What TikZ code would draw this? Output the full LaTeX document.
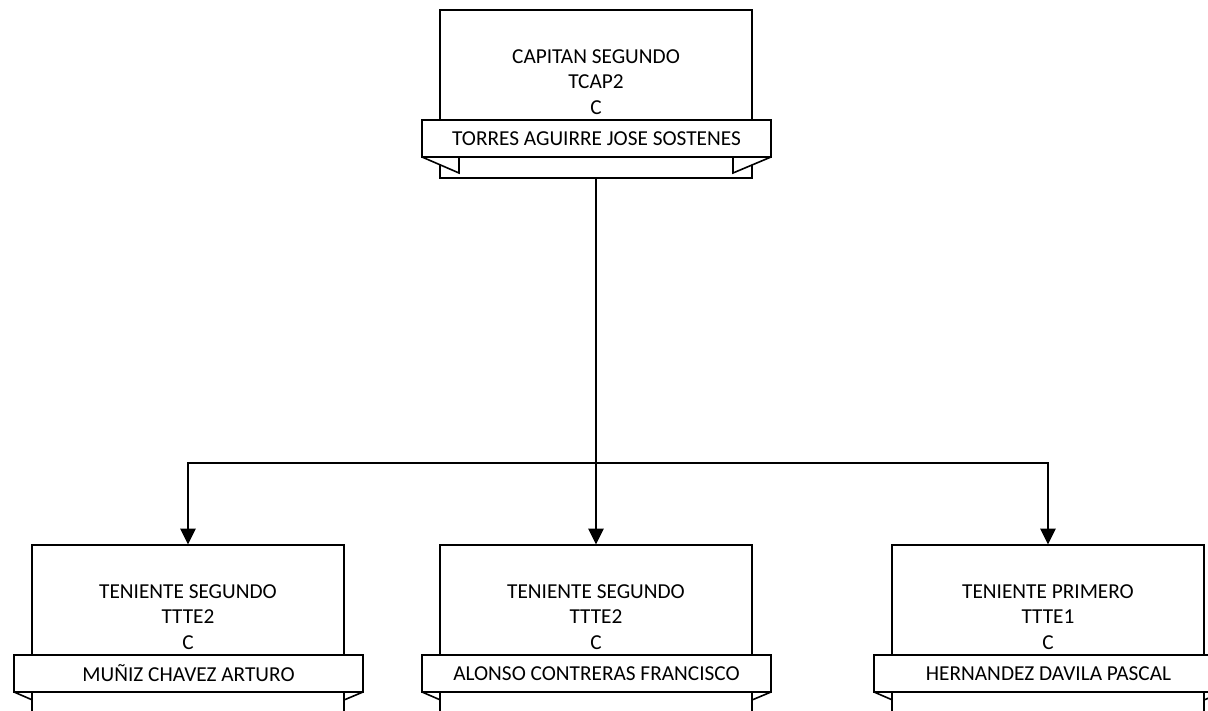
\documentclass[tikz,border=0pt]{standalone}
\usepackage{fontspec}
\setmainfont{Carlito}
\usetikzlibrary{arrows.meta}
\tikzset{
  boxline/.style={draw=black, line width=1.6pt},
  unitbox/.style={boxline, fill=white, minimum width=312pt, minimum height=168pt, inner sep=0pt, anchor=north},
  banner/.style={boxline, fill=white, minimum width=349pt, minimum height=37pt, inner sep=0pt, font=\fontsize{21.3}{26}\selectfont},
  rank/.style={align=center, inner sep=0pt, anchor=north, font=\fontsize{21.3}{25.5}\selectfont},
  tail/.style={boxline, fill=white, line join=miter},
  conn/.style={draw=black, line width=2.8pt},
  arr/.style={conn, -{Triangle[width=15pt,length=16pt]}, shorten >=-0.5pt}
}
\newcommand{\unittails}[2]{%
  \draw[tail] (#1-174,#2+148) -- (#1-137,#2+164) -- (#1-137,#2+148);
  \draw[tail] (#1+175,#2+148) -- (#1+137,#2+164) -- (#1+137,#2+148);
}
% #1 name, #2 cx, #3 top, #4-#6 lines, #7 banner text
\newcommand{\orgunitfront}[7]{%
  \node[unitbox] (#1) at (#2,#3) {};
  \node[rank] (#1txt) at (#2,#3+40) {#4\\#5\\#6};
  \unittails{#2}{#3}
  \node[banner] (#1ban) at (#2+0.5,#3+129.5) {#7};
}
\newcommand{\orgunitback}[7]{%
  \unittails{#2}{#3}
  \node[unitbox] (#1) at (#2,#3) {};
  \node[rank] (#1txt) at (#2,#3+40) {#4\\#5\\#6};
  \node[banner] (#1ban) at (#2+0.5,#3+129.5) {#7};
}
\begin{document}
\begin{tikzpicture}[x=1pt,y=-1pt]
\useasboundingbox (0,0) rectangle (1208,711);
\clip (0,0) rectangle (1208,711);
\fill[white] (0,0) rectangle (1208,711);
\orgunitfront{top}{596}{9}{CAPITAN SEGUNDO}{TCAP2}{C}{TORRES AGUIRRE JOSE SOSTENES}
\orgunitback{l}{188}{544}{TENIENTE SEGUNDO}{TTTE2}{C}{MUÑIZ CHAVEZ ARTURO}
\orgunitback{m}{596}{544}{TENIENTE SEGUNDO}{TTTE2}{C}{ALONSO CONTRERAS FRANCISCO}
\orgunitback{r}{1048}{544}{TENIENTE PRIMERO}{TTTE1}{C}{HERNANDEZ DAVILA PASCAL}
\coordinate (j) at (596,463);
\draw[conn] (top.south) -- (j);
\draw[arr] (j) -| (l.north);
\draw[arr] (j) -- (m.north);
\draw[arr] (j) -| (r.north);
\end{tikzpicture}
\end{document}
